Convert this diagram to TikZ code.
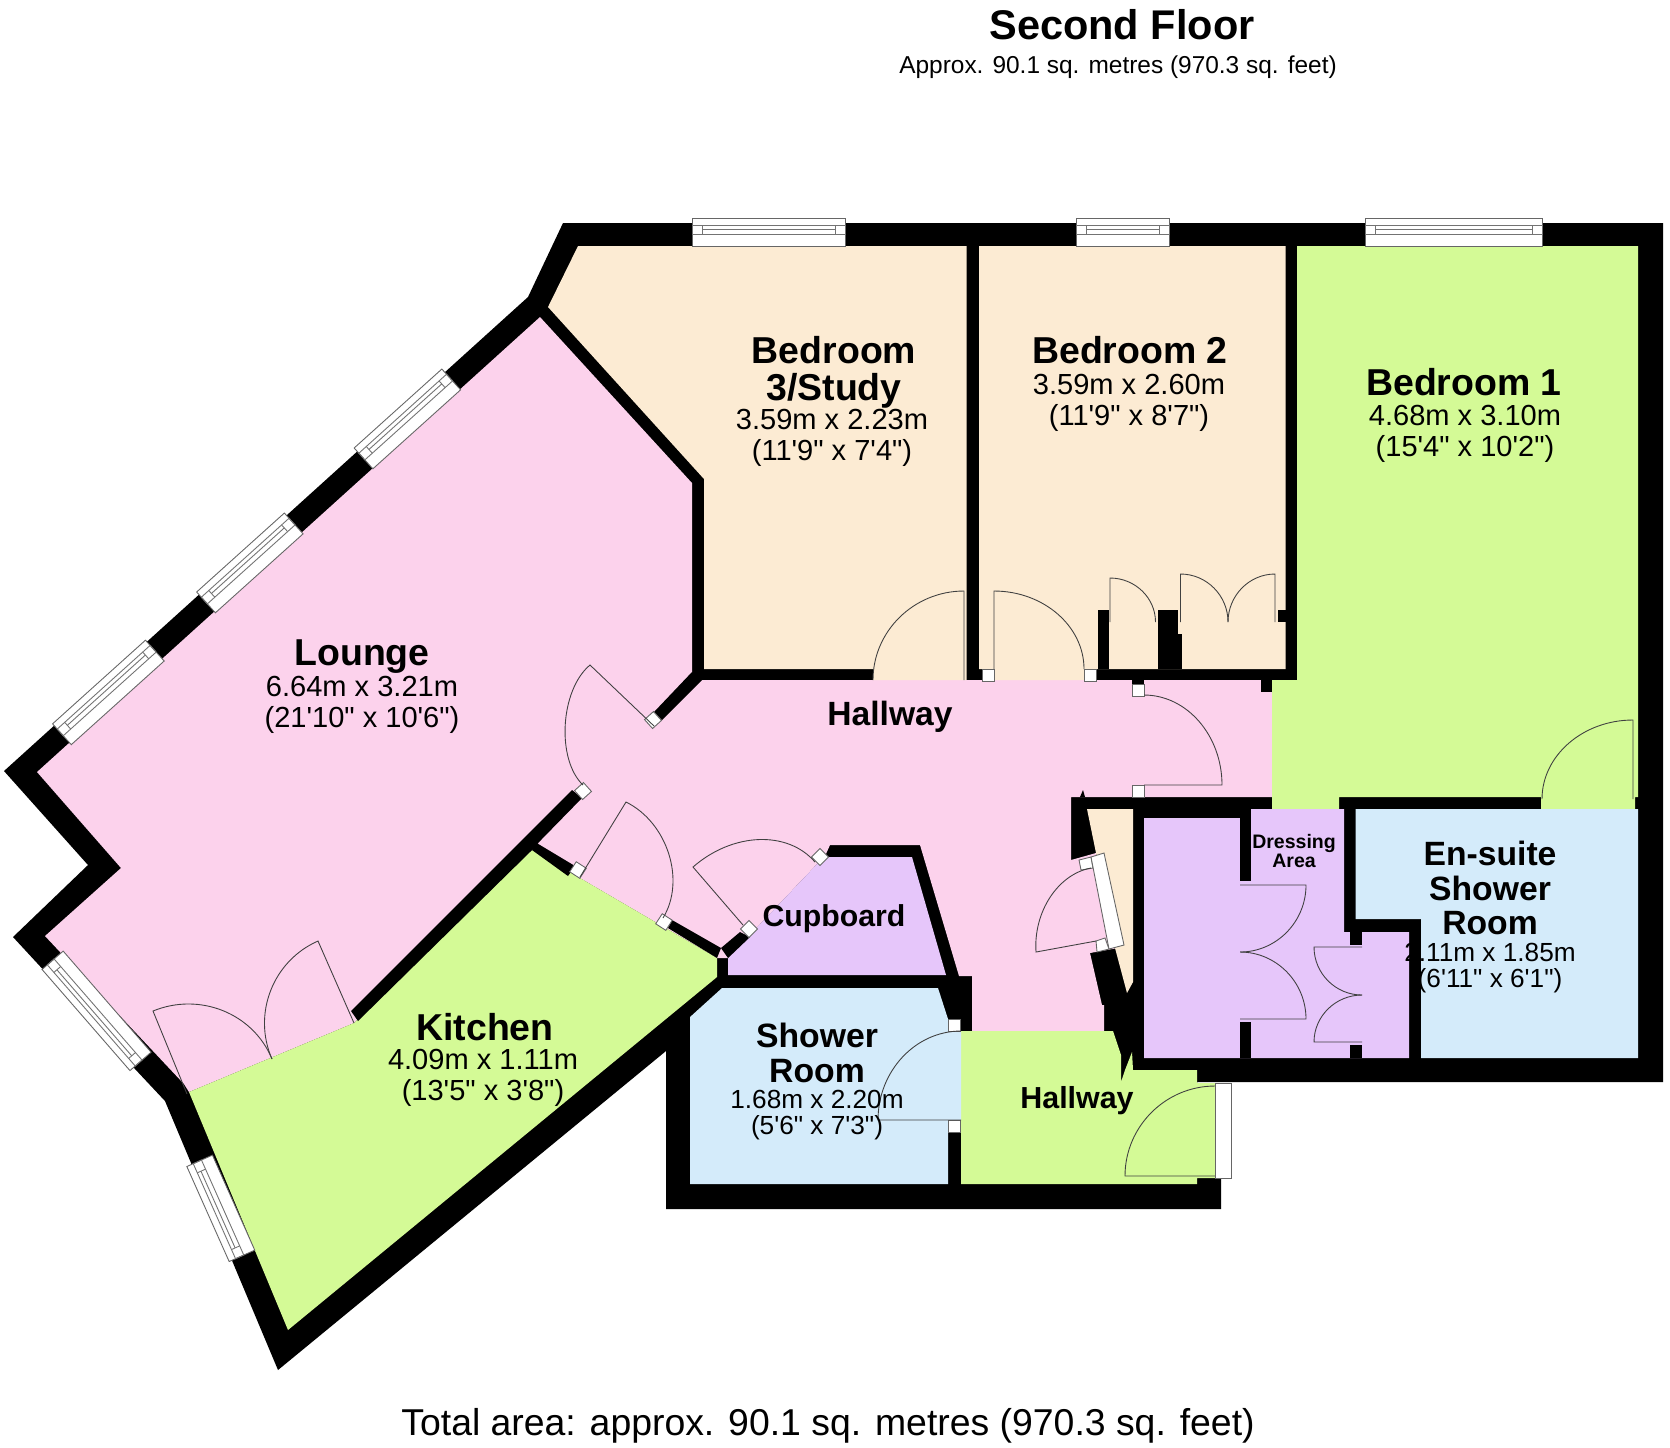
\documentclass[tikz,border=0pt]{standalone}
\usepackage{fontspec}
\usetikzlibrary{calc}
\newfontfamily\planfont{Liberation Sans}

\definecolor{roompink}{HTML}{FCD2EC}
\definecolor{roompeach}{HTML}{FCEBD3}
\definecolor{roomgreen}{HTML}{D4FA96}
\definecolor{roomblue}{HTML}{D4EBFA}
\definecolor{roompurple}{HTML}{E6C6FA}

\tikzset{
  wall/.style={fill=black},
  doorline/.style={draw=black!75,line width=0.25pt},
  jambbox/.style={draw=black!60,fill=white,line width=0.25pt},
  glassline/.style={draw=black!55,line width=0.25pt},
  roomname/.style={font=\planfont\fontsize{10.65}{10.6}\selectfont\bfseries,align=center,inner sep=0pt},
  roomsize/.style={font=\planfont\fontsize{8.26}{9.0}\selectfont,align=center,inner sep=0pt},
}

% hinge, leaf tip, end of the swing
\newcommand\doorleaf[4][0.55]{\draw[doorline] (#2) -- (#3) .. controls ($(#3)+#1*(#4)-#1*(#2)$) and ($(#4)+#1*(#3)-#1*(#2)$) .. (#4);}
\newcommand\jamb[3]{\draw[jambbox,shift={(#1,#2)},rotate=#3] (-6,-6) rectangle (6,6);}
% centre of outer side, angle, length
\newcommand\glazing[4]{\begin{scope}[shift={(#1,#2)},rotate=#3]
  \pgfmathsetmacro\halfl{#4/2}
  \filldraw[jambbox] (-\halfl,0) rectangle (\halfl,28);
  \draw[glassline] (-\halfl,7) rectangle (\halfl,16);
  \draw[glassline] (-\halfl+10,7) -- (-\halfl+10,16);
  \draw[glassline] (\halfl-10,7) -- (\halfl-10,16);
  \draw[glassline] (-\halfl+10,11) -- (\halfl-10,11);
\end{scope}}

\begin{document}
\begin{tikzpicture}[x=0.01cm,y=-0.01cm]
\useasboundingbox (0,0) rectangle (1670,1447);

% outer shell, rooms are laid over it
\fill[wall] (563,223) -- (1663,223) -- (1663,1082) -- (1197,1082) -- (1197,1178) -- (1221,1178) -- (1221,1209)
  -- (666,1209) -- (666,1051) -- (278,1370) -- (165,1101) -- (135,1069) -- (13,937) -- (88,865) -- (4,771) -- (528,297) -- cycle;

\fill[roompink] (540,317) -- (692,483) -- (692,680) -- (1272,680) -- (1272,797) -- (1071,797) -- (1071,860) -- (1096,853)
  -- (1118,948) -- (1090,953) -- (1102,1005) -- (1104,1005) -- (1104,1031) -- (972,1031) -- (972,976) -- (959,976) -- (920,845)
  -- (830,845) -- (825,856) -- (818,863) -- (728,958) -- (717,958) -- (532,850) -- (354,1023) -- (189,1092) -- (184,1084) -- (45,936) -- (121,868) -- (37,772) -- cycle;

\fill[roompeach] (578,246) -- (966.5,246) -- (966.5,680) -- (873,680) -- (873,669) -- (704,669) -- (704,479) -- (548,307) -- cycle;
\fill[roompeach] (979,246) -- (1285.5,246) -- (1285.5,669) -- (1096,669) -- (1096,680) -- (983,680) -- (983,669) -- (979,669) -- cycle;
\fill[roompeach] (1087,809) -- (1133,809) -- (1133,982) -- (1127,993) -- (1115,948) -- (1096,853) -- cycle;

\fill[roomgreen] (1297,246) -- (1638,246) -- (1638,797) -- (1635,797) -- (1635,809) -- (1541,809) -- (1541,797) -- (1339,797)
  -- (1339,809) -- (1272,809) -- (1272,680) -- (1297,680) -- cycle;
\fill[roomgreen] (532,850) -- (717,958) -- (717,977) -- (288,1330) -- (189,1092) -- (354,1023) -- cycle;
\fill[roomgreen] (961,1031) -- (1113,1031) -- (1121,1055) -- (1121,1082) -- (1125,1070) -- (1132,1052) -- (1133,1070) -- (1197,1070)
  -- (1197,1083) -- (1215,1083) -- (1215,1178) -- (1197,1178) -- (1197,1184) -- (961,1184) -- cycle;

\fill[roomblue] (722,988) -- (938,988) -- (948,1019) -- (948,1031) -- (961,1031) -- (961,1120) -- (948,1120) -- (948,1184) -- (690,1184) -- (690,1017) -- cycle;
\fill[roomblue] (1355.5,809) -- (1638,809) -- (1638,1058) -- (1421,1058) -- (1421,919) -- (1355.5,919) -- cycle;

\fill[roompurple] (728,975) -- (728,958) -- (818,863) -- (824,857) -- (912,857) -- (946,975) -- cycle;
\fill[roompurple] (1144,818) -- (1240,818) -- (1240,809) -- (1344,809) -- (1344,932) -- (1409,932) -- (1409,1058) -- (1144,1058) -- cycle;

% wall stubs over the fills
\fill[wall] (572,790) -- (351,1011) -- (358,1021) -- (532,850) -- (540,841) -- (582,798) -- cycle;
\fill[wall] (535,842) -- (575,866) -- (568,876) -- (532,850) -- cycle;
\fill[wall] (672,920) -- (721,948) -- (717,958) -- (668,928) -- cycle;
\fill[wall] (692,672) -- (654,712) -- (662,720) -- (702,680) -- cycle;
\fill[wall] (740,932) -- (750,937) -- (728,958) -- (721,948) -- cycle;
\fill[wall] (1080,797) -- (1083,790) -- (1085,797) -- cycle;
\fill[wall] (1132,680) rectangle (1144,686);
\fill[wall] (1261,680) rectangle (1272,692);
\fill[wall] (1098,610) rectangle (1109,669);
\fill[wall] (1158,610) rectangle (1178,669);
\fill[wall] (1158,634) rectangle (1182,669);
\fill[wall] (1278,610) rectangle (1285.5,622);
\fill[wall] (1240,809) rectangle (1251,881);
\fill[wall] (1240,1022) rectangle (1251,1058);
\fill[wall] (1350,932) rectangle (1362,945);
\fill[wall] (1350,1045) rectangle (1362,1058);

% jambs
\jamb{653}{720}{42}
\jamb{583}{791}{42}
\jamb{578}{870}{-33}
\jamb{664}{922}{-33}
\jamb{749}{929}{45}
\jamb{820}{857}{45}
\jamb{988.5}{675}{0}
\jamb{1090}{675}{0}
\jamb{1138}{690}{0}
\jamb{1138}{791}{0}
\jamb{954.5}{1025}{0}
\jamb{954.5}{1126}{0}
\filldraw[jambbox] (1079,860) -- (1091,857) -- (1093,868) -- (1081,870) -- cycle;
\filldraw[jambbox] (1096,941) -- (1105,938) -- (1109,949) -- (1097,952) -- cycle;

% doors
\doorleaf[0.42]{654,726}{590,665}{583,785}
\doorleaf[0.5]{580,877}{626,802}{663,918}
\doorleaf{743,925}{693,867}{815,862}
\doorleaf{187,1094}{153,1011}{272,1059}
\doorleaf{354,1023}{318,941}{272,1059}
\doorleaf{964,680}{964,591}{873,680}
\doorleaf{994,669}{994,591}{1084,669}
\doorleaf{1110,622}{1110,578}{1155.5,622}
\doorleaf{1180.5,622}{1180.5,574}{1228,622}
\doorleaf{1275,622}{1275,574}{1228,622}
\doorleaf{1633,799}{1633,720}{1542,799}
\doorleaf{1144,785}{1222,785}{1144,695}
\doorleaf{1096,941}{1036,952}{1091,868}
\doorleaf{961,1120}{878,1120}{961,1031}
\doorleaf{1215,1176}{1125,1176}{1215,1086}
\doorleaf{1240,885}{1306,885}{1240,952}
\doorleaf{1240,1019}{1306,1019}{1240,952}
\doorleaf{1362,947}{1314,947}{1362,995}
\doorleaf{1362,1042}{1314,1042}{1362,995}

% windows
\glazing{768.5}{218}{0}{153}
\glazing{1122.5}{218}{0}{93}
\glazing{1453.5}{218}{0}{177}
\glazing{398}{408.5}{42}{118}
\glazing{240.5}{552.5}{42}{118}
\glazing{99}{682}{42}{125}
\glazing{86}{1020}{131}{134}
\glazing{208}{1214}{114}{104}
\filldraw[jambbox] (1091,857) -- (1104,853) -- (1124,945) -- (1109,949) -- cycle;
\filldraw[jambbox] (1215,1083) rectangle (1231,1178);

% texts
\node[font=\planfont\fontsize{11.8}{14}\selectfont\bfseries,inner sep=0pt] (floortitle) at (1122,25) {Second Floor};
\node[font=\planfont\fontsize{6.95}{8.5}\selectfont,inner sep=0pt] (floorarea) at (1118,67) {Approx. 90.1 sq. metres (970.3 sq. feet)};
\node[font=\planfont\fontsize{10.63}{13}\selectfont,inner sep=0pt] (totalarea) at (828,1426) {Total area: approx. 90.1 sq. metres (970.3 sq. feet)};

\node[roomname] (lounge) at (362,657) {Lounge};
\node[roomsize] (loungesize) at (362,705) {6.64m x 3.21m\\(21'10" x 10'6")};
\node[roomname] (bedthree) at (834,372) {Bedroom\\3/Study};
\node[roomsize] (bedthreesize) at (832,438) {3.59m x 2.23m\\(11'9" x 7'4")};
\node[roomname] (bedtwo) at (1130,350) {Bedroom 2};
\node[roomsize] (bedtwosize) at (1129,403) {3.59m x 2.60m\\(11'9" x 8'7")};
\node[roomname] (bedone) at (1464,382) {Bedroom 1};
\node[roomsize] (bedonesize) at (1465,434) {4.68m x 3.10m\\(15'4" x 10'2")};
\node[roomname,font=\planfont\fontsize{9.56}{11}\selectfont\bfseries] (hallupper) at (890,717) {Hallway};
\node[roomname] (kitchen) at (485,1027) {Kitchen};
\node[roomsize] (kitchensize) at (483,1078) {4.09m x 1.11m\\(13'5" x 3'8")};
\node[roomname,font=\planfont\fontsize{8.6}{10}\selectfont\bfseries] (cupboard) at (834,919) {Cupboard};
\node[roomname,font=\planfont\fontsize{9.6}{9.9}\selectfont\bfseries] (shower) at (817,1053) {Shower\\Room};
\node[roomsize,font=\planfont\fontsize{7.45}{7.3}\selectfont] (showersize) at (817,1115) {1.68m x 2.20m\\(5'6" x 7'3")};
\node[roomname,font=\planfont\fontsize{8.65}{10}\selectfont\bfseries] (halllower) at (1077,1101) {Hallway};
\node[roomname,font=\planfont\fontsize{5.55}{5.4}\selectfont\bfseries] (dressing) at (1294,851) {Dressing\\Area};
\node[roomname,font=\planfont\fontsize{9.58}{9.7}\selectfont\bfseries] (ensuite) at (1490,888) {En-suite\\Shower\\Room};
\node[roomsize,font=\planfont\fontsize{7.45}{7.2}\selectfont] (ensuitesize) at (1490,968) {2.11m x 1.85m\\(6'11" x 6'1")};

\end{tikzpicture}
\end{document}
